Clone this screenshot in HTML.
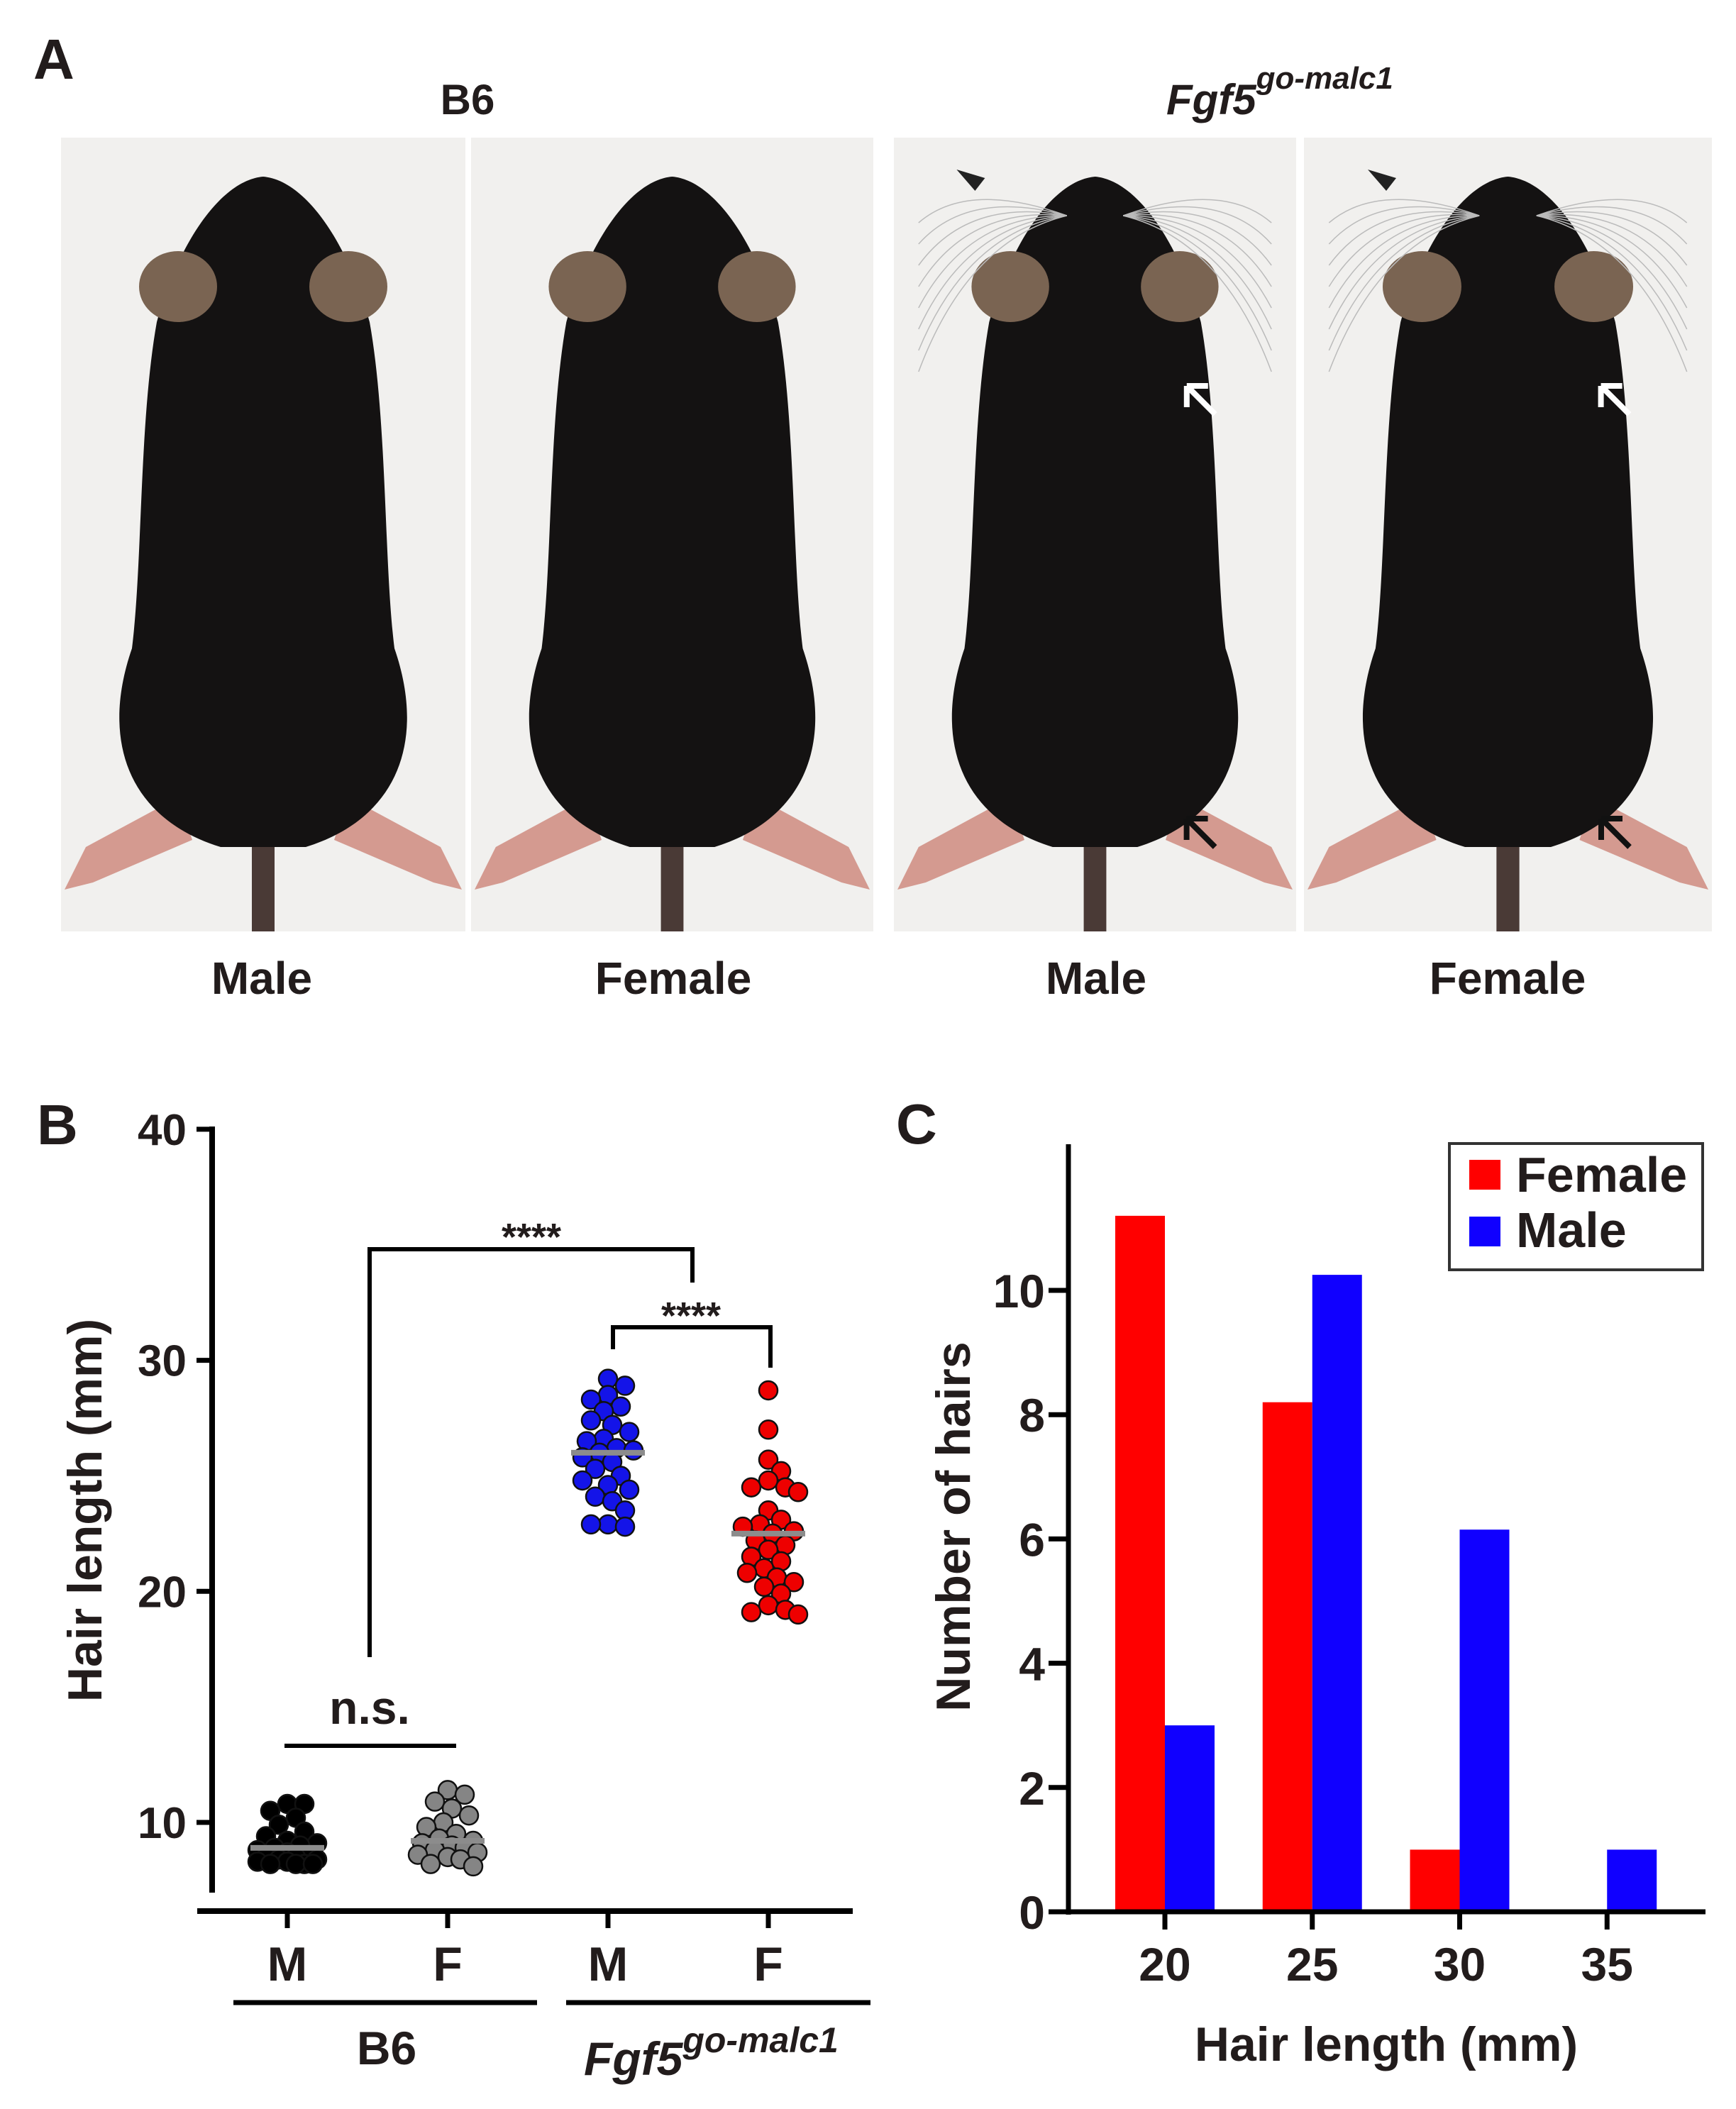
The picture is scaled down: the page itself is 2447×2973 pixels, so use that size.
<!DOCTYPE html>
<html><head><meta charset="utf-8">
<style>
html,body{margin:0;padding:0;background:#fff;}
svg{display:block;}
text{font-family:"Liberation Sans",Arial,sans-serif;font-weight:bold;fill:#221c1c;}
</style></head>
<body>
<svg id="fig" width="2447" height="2973" viewBox="0 0 2447 2973" xmlns="http://www.w3.org/2000/svg">
  <g id="panelA">
    <text x="47" y="111" font-size="80">A</text>
    <text x="659" y="161" font-size="60" text-anchor="middle">B6</text>
    <text x="1644" y="161" font-size="60" font-style="italic">Fgf5<tspan font-size="44" dy="-36">go-malc1</tspan></text>
    <g id="photos"></g>
    <text x="369" y="1401" font-size="64" text-anchor="middle">Male</text>
    <text x="949" y="1401" font-size="64" text-anchor="middle">Female</text>
    <text x="1545" y="1401" font-size="64" text-anchor="middle">Male</text>
    <text x="2125" y="1401" font-size="64" text-anchor="middle">Female</text>
  </g>

  <g id="panelB">
    <text x="52" y="1613" font-size="80">B</text>
    <line x1="299" y1="1588" x2="299" y2="2668" stroke="#000" stroke-width="8"/>
    <line x1="278" y1="2694" x2="1202" y2="2694" stroke="#000" stroke-width="8"/>
    <g id="bTicks"></g>
    <text transform="translate(143,2129) rotate(-90)" font-size="68" text-anchor="middle">Hair length (mm)</text>
    <line x1="329" y1="2823" x2="757" y2="2823" stroke="#000" stroke-width="7"/>
    <line x1="798" y1="2823" x2="1227" y2="2823" stroke="#000" stroke-width="7"/>
    <text x="545" y="2910" font-size="66" text-anchor="middle">B6</text>
    <text x="823" y="2925" font-size="66" font-style="italic">Fgf5<tspan font-size="50" dy="-32">go-malc1</tspan></text>
    <g id="bDots"></g>
    <path d="M521 2336 V1761 H976 V1808" fill="none" stroke="#000" stroke-width="6"/>
    <text x="749" y="1762" font-size="54" text-anchor="middle">****</text>
    <path d="M864 1902 V1871 H1086 V1928" fill="none" stroke="#000" stroke-width="6"/>
    <text x="974" y="1873" font-size="54" text-anchor="middle">****</text>
    <line x1="401" y1="2461" x2="643" y2="2461" stroke="#000" stroke-width="6"/>
    <text x="521" y="2430" font-size="66" text-anchor="middle">n.s.</text>
  </g>

  <g id="panelC">
    <text x="1263" y="1612" font-size="80">C</text>
    <g id="cBars"></g>
    <line x1="1506" y1="1613" x2="1506" y2="2699" stroke="#000" stroke-width="7"/>
    <line x1="1478" y1="2695" x2="2404" y2="2695" stroke="#000" stroke-width="7"/>
    <g id="cTicks"></g>
    <text transform="translate(1367,2152) rotate(-90)" font-size="68" text-anchor="middle">Number of hairs</text>
    <text x="1954" y="2905" font-size="68" text-anchor="middle">Hair length (mm)</text>
    <g>
      <rect x="2043" y="1612" width="357" height="178" fill="#fff" stroke="#333" stroke-width="4"/>
      <rect x="2071" y="1635" width="44" height="42" fill="#ff0000"/>
      <text x="2137" y="1680" font-size="70">Female</text>
      <rect x="2071" y="1715" width="44" height="42" fill="#1000ff"/>
      <text x="2137" y="1758" font-size="70">Male</text>
    </g>
  </g>
</svg>
<script>
const NS = "http://www.w3.org/2000/svg";
// ---------- Panel B data ----------
const bCategories = ["M", "F", "M", "F"];
const bTickValues = [10, 20, 30, 40];
const bColors = ["#000000", "#858585", "#1414e8", "#ee0000"];
const b6Male = [10.8, 10.8, 10.5, 10.2, 9.9, 9.6, 9.4, 9.2, 9.1, 9.0, 8.9, 8.8, 8.7, 8.6, 8.5, 8.4, 8.4, 8.3, 8.2, 8.2, 8.2, 8.2, 8.3, 8.5];
const b6Female = [11.4, 11.2, 10.9, 10.6, 10.3, 10.0, 9.8, 9.5, 9.3, 9.2, 9.1, 9.0, 8.9, 8.8, 8.7, 8.6, 8.5, 8.4, 8.2, 8.1];
const fgf5Male = [29.2, 28.9, 28.5, 28.3, 28.0, 27.8, 27.4, 27.2, 26.9, 26.6, 26.5, 26.2, 26.1, 26.0, 25.8, 25.6, 25.3, 25.0, 24.8, 24.6, 24.4, 24.1, 23.9, 23.5, 22.9, 22.9, 22.8];
const fgf5Female = [28.7, 27.0, 25.7, 25.2, 24.8, 24.5, 24.5, 24.3, 23.5, 23.1, 22.9, 22.8, 22.6, 22.5, 22.2, 22.0, 21.8, 21.5, 21.3, 21.0, 20.8, 20.6, 20.4, 20.2, 19.9, 19.4, 19.2, 19.1, 19.0];
const bMeans = [8.9, 9.2, 26.0, 22.5];

// ---------- Panel C data ----------
const cCategories = [20, 25, 30, 35];
const cFemale = [11.2, 8.2, 1, 0];
const cMale = [3, 10.25, 6.15, 1];
const cTickValues = [0, 2, 4, 6, 8, 10];

function yB(v) { return 2569 + (10 - v) * 32.57; }
function xB(i) { return 405 + i * 226; }
function yC(c) { return 2695 - c * 87.6; }
function xC(v) { return 1642 + (v - 20) * 41.55; }

function mk(tag, attrs, parent) {
  const e = document.createElementNS(NS, tag);
  for (const k in attrs) e.setAttribute(k, attrs[k]);
  parent.appendChild(e);
  return e;
}

const bT = document.getElementById("bTicks");
bTickValues.forEach(v => {
  const l = mk("line", {x1: 277, x2: 301, y1: yB(v), y2: yB(v), stroke: "#000", "stroke-width": 7}, bT);
  
  
  const t = mk("text", {x: 263, y: yB(v) + 22, "font-size": 62, "text-anchor": "end"}, bT);
  t.textContent = v;
  
  
});
bCategories.forEach((c, i) => {
  const l = mk("line", {x1: xB(i), x2: xB(i), y1: 2694, y2: 2718, stroke: "#000", "stroke-width": 7}, bT);
  
  
  const t = mk("text", {x: xB(i), y: 2792, "font-size": 68, "text-anchor": "middle"}, bT);
  t.textContent = c;
  
  
});

const groups = [b6Male, b6Female, fgf5Male, fgf5Female];
const bD = document.getElementById("bDots");
const R = 13, MIND = 21, MAXOFF = 46;
groups.forEach((vals, gi) => {
  const placed = [];
  const sorted = vals.slice().sort((a, b) => b - a);
  sorted.forEach(v => {
    const y = yB(v);
    let best = 0, bestD = -1;
    for (let k = 0; k < 40; k++) {
      const cand = k === 0 ? 0 : (k % 2 ? 1 : -1) * Math.ceil(k / 2) * 6;
      if (Math.abs(cand) > MAXOFF) break;
      const d = placed.length ? Math.min(...placed.map(p => Math.hypot(p[0] - cand, p[1] - y))) : 999;
      if (d >= MIND) { best = cand; bestD = 999; break; }
      if (d > bestD) { bestD = d; best = cand; }
    }
    placed.push([best, y]);
    const c = mk("circle", {cx: xB(gi) + best, cy: y, r: R, fill: bColors[gi], stroke: "#111", "stroke-width": 2.5}, bD);
    
    
  });
  const m = mk("line", {x1: xB(gi) - 52, x2: xB(gi) + 52, y1: yB(bMeans[gi]), y2: yB(bMeans[gi]), stroke: "#8c8c8c", "stroke-width": 8}, bD);
  
  
});

const cB = document.getElementById("cBars");
cCategories.forEach((cat, i) => {
  const x = xC(cat);
  if (cFemale[i] > 0) {
    const r = mk("rect", {x: x - 70, y: yC(cFemale[i]), width: 70, height: yC(0) - yC(cFemale[i]), fill: "#ff0000"}, cB);
    
    
  }
  if (cMale[i] > 0) {
    const r = mk("rect", {x: x, y: yC(cMale[i]), width: 70, height: yC(0) - yC(cMale[i]), fill: "#1000ff"}, cB);
    
    
  }
});
const cT = document.getElementById("cTicks");
cTickValues.forEach(v => {
  const l = mk("line", {x1: 1478, x2: 1508, y1: yC(v), y2: yC(v), stroke: "#000", "stroke-width": 7}, cT);
  
  
  const t = mk("text", {x: 1473, y: yC(v) + 24, "font-size": 66, "text-anchor": "end"}, cT);
  t.textContent = v;
  
  
});
cCategories.forEach(cat => {
  const l = mk("line", {x1: xC(cat), x2: xC(cat), y1: 2695, y2: 2720, stroke: "#000", "stroke-width": 7}, cT);
  
  
  const t = mk("text", {x: xC(cat), y: 2792, "font-size": 66, "text-anchor": "middle"}, cT);
  t.textContent = cat;
  
  
});

const photos = document.getElementById("photos");
const frames = [[86, 656, 0], [664, 1231, 0], [1260, 1827, 1], [1838, 2413, 1]];
const names = ['photo-b6-male', 'photo-b6-female', 'photo-fgf5-male', 'photo-fgf5-female'];
frames.forEach((f, i) => {
  const g = mk("g", {}, photos);
  
  
  const x0 = f[0], w = f[1] - f[0], y0 = 194, h = 1119, cx = x0 + w / 2;
  mk("rect", {x: x0, y: y0, width: w, height: h, fill: "#f1f0ee"}, g);
  const s = w / 570;
  const P = (dx, dy) => (cx + dx * s).toFixed(1) + " " + (y0 + dy).toFixed(1);
  mk("rect", {x: cx - 16 * s, y: y0 + 950, width: 32 * s, height: 169, fill: "#4a3a36"}, g);
  mk("path", {d: "M" + P(-120, 930) + " L" + P(-250, 1000) + " L" + P(-280, 1060) + " L" + P(-240, 1050) + " L" + P(-100, 990) + "Z", fill: "#d49a90"}, g);
  mk("path", {d: "M" + P(120, 930) + " L" + P(250, 1000) + " L" + P(280, 1060) + " L" + P(240, 1050) + " L" + P(100, 990) + "Z", fill: "#d49a90"}, g);
  mk("path", {d: "M" + P(0, 55) + " C" + P(60, 60) + " " + P(120, 150) + " " + P(150, 260) +
    " C" + P(175, 400) + " " + P(170, 600) + " " + P(185, 720) +
    " C" + P(230, 850) + " " + P(190, 960) + " " + P(60, 1000) +
    " L" + P(-60, 1000) +
    " C" + P(-190, 960) + " " + P(-230, 850) + " " + P(-185, 720) +
    " C" + P(-170, 600) + " " + P(-175, 400) + " " + P(-150, 260) +
    " C" + P(-120, 150) + " " + P(-60, 60) + " " + P(0, 55) + "Z", fill: "#141212"}, g);
  mk("ellipse", {cx: cx - 120 * s, cy: y0 + 210, rx: 55 * s, ry: 50, fill: "#7a6452"}, g);
  mk("ellipse", {cx: cx + 120 * s, cy: y0 + 210, rx: 55 * s, ry: 50, fill: "#7a6452"}, g);
  if (f[2]) {
    for (let k = 0; k < 8; k++) {
      mk("path", {d: "M" + P(-40, 110) + " Q" + P(-180, 60 + k * 12) + " " + P(-250, 120 + k * 30), fill: "none", stroke: "#bbb", "stroke-width": 1.5}, g);
      mk("path", {d: "M" + P(40, 110) + " Q" + P(180, 60 + k * 12) + " " + P(250, 120 + k * 30), fill: "none", stroke: "#bbb", "stroke-width": 1.5}, g);
    }
    mk("path", {d: "M" + P(-170, 75) + " l-26 -30 l40 12 z", fill: "#222"}, g);
    mk("path", {d: "M" + P(130, 350) + " l40 40 m-40 -40 l0 30 m0 -30 l30 0", stroke: "#fff", "stroke-width": 8, fill: "none"}, g);
    mk("path", {d: "M" + P(170, 1000) + " l-40 -40 m0 0 l0 30 m0 -30 l30 0", stroke: "#111", "stroke-width": 8, fill: "none"}, g);
  }
});
</script>
</body></html>
